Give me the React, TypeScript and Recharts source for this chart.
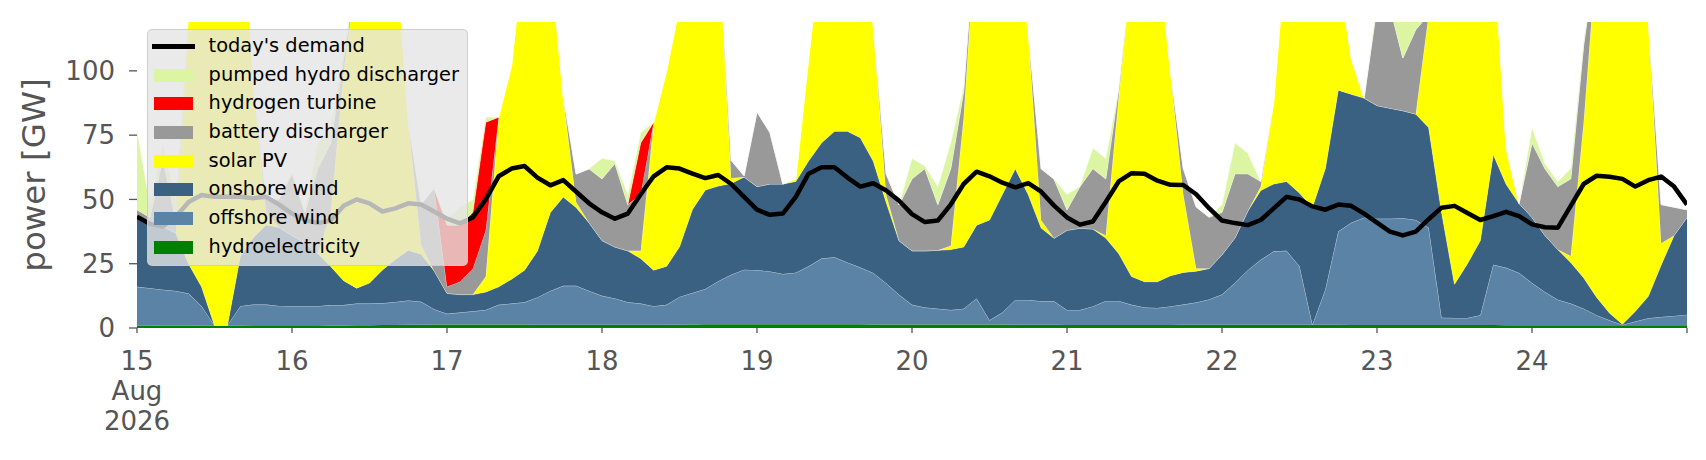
import React from 'react';
import { Area, ComposedChart, Label, Legend, Line, XAxis, YAxis } from 'recharts';

const FONT = '"DejaVu Sans", sans-serif';
const AXIS_GRAY = '#555555';

// hours after 15 Aug 2026 00:00, every 2 h
const HOURS = Array.from({ length: 121 }, (_, i) => i * 2);

const TICK_HOURS = [0, 24, 48, 72, 96, 120, 144, 168, 192, 216, 240];
const TICK_LABELS = [
  ['15', 'Aug', '2026'],
  ['16'],
  ['17'],
  ['18'],
  ['19'],
  ['20'],
  ['21'],
  ['22'],
  ['23'],
  ['24'],
  [''],
];
const Y_TICKS = [0, 25, 50, 75, 100];

// GW, one row of 12 values per day (15 .. 24 Aug) plus the closing point
const HYDRO = [
  1.0, 1.0, 0.9, 0.9, 0.9, 1.0, 1.0, 1.0, 1.0, 1.1, 1.1, 1.1,
  1.1, 1.1, 1.1, 1.0, 1.0, 1.1, 1.1, 1.2, 1.2, 1.3, 1.3, 1.4,
  1.4, 1.4, 1.4, 1.4, 1.4, 1.4, 1.4, 1.3, 1.3, 1.3, 1.3, 1.3,
  1.3, 1.3, 1.3, 1.3, 1.3, 1.3, 1.4, 1.4, 1.5, 1.5, 1.5, 1.5,
  1.5, 1.5, 1.5, 1.5, 1.5, 1.5, 1.5, 1.5, 1.5, 1.4, 1.4, 1.4,
  1.4, 1.4, 1.4, 1.4, 1.4, 1.4, 1.4, 1.4, 1.3, 1.3, 1.3, 1.3,
  1.2, 1.2, 1.2, 1.2, 1.2, 1.2, 1.2, 1.2, 1.2, 1.3, 1.3, 1.3,
  1.3, 1.3, 1.3, 1.3, 1.3, 1.3, 1.3, 1.3, 1.3, 1.3, 1.2, 1.2,
  1.2, 1.2, 1.2, 1.2, 1.2, 1.2, 1.2, 1.2, 1.2, 1.2, 1.1, 1.1,
  1.1, 1.1, 1.1, 1.1, 1.1, 1.1, 1.1, 1.1, 1.1, 1.1, 1.1, 1.1,
  1.1,
];

const OFFSHORE = [
  15, 14.5, 14, 13.5, 12.5, 7.5, 0, 0, 7.5, 8, 8, 7.5,
  7.4, 7.4, 7.4, 7.9, 7.9, 8.4, 8.4, 8.4, 8.9, 9.4, 8.9, 5.9,
  4.1, 4.6, 5.1, 5.6, 7.6, 8.1, 8.6, 10.6, 13.1, 15.1, 15.1, 13.1,
  11.2, 10.2, 8.7, 8.2, 7.2, 7.7, 10.7, 12.2, 13.7, 16.7, 19.2, 21.2,
  21, 20.5, 19.5, 20, 22.5, 25.5, 26, 24, 22, 20, 16, 11.5,
  7.6, 6.6, 6.1, 5.6, 6.1, 10.1, 1.6, 4.6, 9.6, 9.6, 9.1, 9.1,
  5.8, 5.8, 7.2, 9.3, 9.3, 7.8, 6.8, 6.6, 7.2, 7.8, 8.6, 9.8,
  11.7, 16.2, 21.2, 25.2, 28.5, 28.7, 22.7, 0, 13.7, 36.2, 39.7, 41.7,
  41.3, 41.3, 41.5, 40.8, 37.8, 2.8, 2.7, 2.7, 3.8, 23.4, 22.3, 20.3,
  16.4, 12.9, 9.9, 8.4, 6.4, 3.9, 1.9, 0.1, 1.4, 2.7, 3.2, 3.6,
  4.1,
];

const ONSHORE = [
  27, 25.5, 24.5, 22.5, 11.5, 7.5, 0, 0, 19.5, 26, 31, 30.5,
  27.5, 24.5, 20.5, 15, 9.5, 6, 8, 13, 16.5, 19.5, 18.5, 15,
  8, 7, 6.5, 7, 7, 9.5, 12.5, 18, 30.5, 34.5, 30.5, 26.5,
  21.5, 20, 20, 17.5, 14, 15, 19.5, 32.5, 38.5, 37, 35.5, 36,
  32.5, 34, 35, 35.5, 41, 45, 49, 51, 50.5, 43.5, 31.5, 21,
  21, 22, 22.7, 23.5, 24, 28.5, 39, 46, 51, 41, 28.5, 24.5,
  31, 31.8, 30.1, 24.5, 18.5, 11, 10, 10.2, 11.9, 12.5, 12.2, 12,
  15.5, 17.5, 23, 27, 26.2, 27, 28.5, 45.7, 47, 55, 50, 46.5,
  44, 43, 41.8, 41.2, 39, 41, 13.1, 21.1, 29, 42.9, 32.5, 27,
  25.5, 22, 19.5, 16, 12, 7, 2.8, 0.3, 4, 8.5, 20.2, 31.3,
  37.8,
];

const SOLAR = [
  0, 0, 0, 0, 99, 154, 179, 179, 152, 60, 5, 0,
  0, 0, 0, 21, 81.5, 122.5, 142.5, 137.5, 125.5, 50, 3.5, 0,
  0, 0, 0, 6, 66, 83, 127.5, 145, 99, 39, 2, 0,
  0, 0, 0, 3, 57.5, 76, 93.5, 114, 106.5, 98, 2, 0,
  0, 0, 0, 1, 40, 78, 93.5, 93.5, 76, 53, 3, 0,
  0, 0, 0, 1.5, 50.5, 120, 118, 108, 98, 63, 3, 0,
  0, 0, 0, 1, 61, 120, 152, 132, 79.7, 30.5, 1, 0,
  0, 0, 0, 1.5, 32, 93, 107.5, 113, 98, 47.5, 14, 0,
  0, 0, 0, 0, 44, 125, 153, 145, 136, 82.5, 14, 0,
  0, 0, 0, 2.5, 60.5, 134, 164.2, 168.5, 163.5, 107.7, 8.5, 0,
  0,
];

const BATTERY = [
  3, 2, 26.5, 5, 0, 0, 0, 0, 0, 0, 5, 11,
  24, 12, 33, 27, 5, 0, 0, 0, 0, 0, 16, 32,
  2.5, 5, 10, 18, 0, 0, 0, 0, 0, 0, 11, 21,
  24, 32.5, 18, 22, 0, 0, 0, 0, 0, 0, 7, 0.5,
  29, 20, 0, 0, 0, 0, 0, 0, 0, 0, 8, 14,
  28, 32, 17.8, 30, 10, 0, 0, 0, 0, 0, 20, 23,
  8, 16.2, 23.5, 22, 3, 0, 0, 0, 0, 10, 24, 20,
  16.5, 25, 14.5, 2, 0, 0, 0, 0, 0, 0, 0, 0,
  38.5, 39.5, 20.5, 32.8, 0, 0, 0, 0, 0, 0, 0, 0,
  29, 26, 24.5, 30, 30, 0, 0, 0, 0, 0, 15, 11,
  3,
];

const HYDROGEN = [
  0, 0, 0, 0, 0, 0, 0, 0, 0, 0, 0, 0,
  0, 0, 0, 0, 0, 0, 0, 0, 0, 0, 0, 0,
  24, 22, 22, 42, 0, 0, 0, 0, 0, 0, 0, 0,
  0, 0, 0, 20, 0, 0, 0, 0, 0, 0, 0, 0,
  0, 0, 0, 0, 0, 0, 0, 0, 0, 0, 0, 0,
  0, 0, 0, 0, 0, 0, 0, 0, 0, 0, 0, 0,
  0, 0, 0, 0, 0, 0, 0, 0, 0, 0, 0, 0,
  0, 0, 0, 0, 0, 0, 0, 0, 0, 0, 0, 0,
  0, 0, 0, 0, 0, 0, 0, 0, 0, 0, 0, 0,
  0, 0, 0, 0, 0, 0, 0, 0, 0, 0, 0, 0,
  0,
];

const PUMPED = [
  31, 5, 6, 8, 0, 0, 0, 0, 0, 0, 0, 0,
  1, 1, 10, 6, 3, 0, 0, 0, 0, 0, 0, 0,
  2, 7, 5, 2, 0, 0, 0, 0, 0, 0, 0, 0,
  8, 1, 4, 4, 0, 0, 0, 0, 0, 0, 0, 0,
  0, 0, 0, 0, 0, 0, 0, 0, 0, 0, 0, 0,
  8, 1, 7, 10, 2, 0, 0, 0, 0, 0, 0, 0,
  6, 0, 8, 8, 0, 0, 0, 0, 0, 0, 0, 0,
  3, 12, 8, 0, 0, 0, 0, 0, 0, 0, 0, 0,
  2, 1, 19, 5, 0, 0, 0, 0, 0, 0, 0, 0,
  6, 2, 2, 4, 2, 0, 0, 0, 0, 0, 0, 0,
  0,
];

const DEMAND = [
  43.3, 40.5, 39.5, 43.3, 49, 51.7, 51, 51, 51, 50.5, 51, 48,
  44.5, 42, 40.8, 41.8, 47.5, 50, 48.5, 45.3, 46.5, 48.5, 48, 45.3,
  42.5, 40.7, 43, 50, 59, 62, 63, 58.5, 55.5, 57.5, 53, 48.5,
  45, 42.5, 44.5, 52, 59, 62.5, 62, 60, 58.3, 59.5, 56, 51,
  46, 44, 44.5, 51, 60, 62.5, 62.5, 58.5, 55, 56.3, 53.5, 49.5,
  44.3, 41.2, 41.8, 48, 56, 60.8, 59, 56.5, 54.7, 56.3, 53, 47.6,
  43, 40.2, 41.4, 49, 57, 60.2, 60, 57.3, 55.7, 55.6, 52, 46.6,
  41.8, 40.8, 40, 42, 46.5, 51, 50, 47.3, 46, 48, 47.5, 44.5,
  41, 37.5, 36, 37.5, 42.3, 46.8, 47.5, 44.7, 42, 43.5, 45.2, 43.5,
  40.3, 39.2, 39, 47.5, 56, 59.2, 58.8, 58, 55, 57.5, 58.9, 55,
  48,
];

// stack order, bottom first
const STACK = [
  { key: 'hydro', name: 'hydroelectricity', color: '#008000', values: HYDRO },
  { key: 'offshore', name: 'offshore wind', color: '#5b83a6', values: OFFSHORE },
  { key: 'onshore', name: 'onshore wind', color: '#3b6182', values: ONSHORE },
  { key: 'solar', name: 'solar PV', color: '#ffff00', values: SOLAR },
  { key: 'battery', name: 'battery discharger', color: '#999999', values: BATTERY },
  { key: 'hydrogen', name: 'hydrogen turbine', color: '#ff0000', values: HYDROGEN },
  { key: 'pumped', name: 'pumped hydro discharger', color: '#dbf5a3', values: PUMPED },
];

const rows = HOURS.map((hour, i) => {
  const row: Record<string, number> = { hour, demand: DEMAND[i] };
  STACK.forEach((s) => {
    row[s.key] = s.values[i];
  });
  return row;
});

function DateTick(props: any) {
  const { x, y, index } = props;
  const lines = TICK_LABELS[index] ?? [''];
  return (
    <text x={x} y={y} textAnchor="middle" fill={AXIS_GRAY} fontSize={26} fontFamily={FONT}>
      {lines.map((line, i) => (
        <tspan key={i} x={x} dy={i === 0 ? '0.73em' : 30}>
          {line}
        </tspan>
      ))}
    </text>
  );
}

function YLabel(props: any) {
  const vb = props.viewBox ?? { x: 0, y: 14, height: 306 };
  const x = vb.x + 37;
  const y = vb.y + vb.height / 2;
  return (
    <text
      x={x}
      y={y}
      transform={`rotate(-90, ${x}, ${y})`}
      textAnchor="middle"
      fill={AXIS_GRAY}
      fontSize={32.5}
      fontFamily={FONT}
    >
      power [GW]
    </text>
  );
}

function LegendBox() {
  const items = [
    { name: "today's demand", color: '#000000', line: true },
    ...STACK.slice().reverse().map((s) => ({ name: s.name, color: s.color, line: false })),
  ];
  return (
    <div
      style={{
        width: 321,
        height: 237,
        boxSizing: 'border-box',
        background: 'rgba(229, 229, 229, 0.8)',
        border: '1px solid rgba(204, 204, 204, 0.9)',
        borderRadius: 5,
        paddingTop: 2,
        fontFamily: FONT,
        fontSize: 19.4,
        color: '#000000',
      }}
    >
      {items.map((item) => (
        <div key={item.name} style={{ height: 28.7, display: 'flex', alignItems: 'center' }}>
          <div style={{ width: 60.6, flexShrink: 0, display: 'flex', alignItems: 'center' }}>
            {item.line ? (
              <span style={{ marginLeft: 4, width: 43, height: 5, background: item.color }} />
            ) : (
              <span style={{ marginLeft: 6.3, width: 39, height: 13, background: item.color }} />
            )}
          </div>
          <span style={{ whiteSpace: 'nowrap', lineHeight: '28.7px' }}>{item.name}</span>
        </div>
      ))}
    </div>
  );
}

export default function App() {
  return (
    <div style={{ width: 1690, height: 444, fontFamily: FONT }}>
      <ComposedChart
        width={1690}
        height={444}
        data={rows}
        margin={{ top: 14, right: 11, bottom: 24, left: 0 }}
      >
        <XAxis
          dataKey="hour"
          type="number"
          domain={[0, 240]}
          ticks={TICK_HOURS}
          interval={0}
          allowDataOverflow
          axisLine={false}
          tickLine={{ stroke: AXIS_GRAY, strokeWidth: 1.3 }}
          tickSize={5}
          tickMargin={18}
          height={100}
          tick={<DateTick />}
        />
        <YAxis
          type="number"
          domain={[0, 119]}
          ticks={Y_TICKS}
          allowDataOverflow
          axisLine={false}
          tickLine={{ stroke: AXIS_GRAY, strokeWidth: 1.3 }}
          tickSize={8}
          tickMargin={14}
          width={129}
          tick={{ fill: AXIS_GRAY, fontSize: 26, fontFamily: FONT }}
        >
          <Label content={YLabel} />
        </YAxis>
        {STACK.map((s) => (
          <Area
            key={s.key}
            type="linear"
            dataKey={s.key}
            name={s.name}
            stackId="supply"
            fill={s.color}
            fillOpacity={1}
            stroke={s.key === 'hydro' ? 'none' : '#ffffff'}
            strokeWidth={0.6}
            strokeOpacity={0.8}
            dot={false}
            activeDot={false}
            isAnimationActive={false}
          />
        ))}
        <Line
          type="linear"
          dataKey="demand"
          name="today's demand"
          stroke="#000000"
          strokeWidth={4.5}
          strokeLinejoin="round"
          dot={false}
          activeDot={false}
          isAnimationActive={false}
        />
        <Legend
          layout="vertical"
          align="center"
          verticalAlign="middle"
          wrapperStyle={{ left: 139, top: 21, width: 321, height: 237 }}
          content={() => <LegendBox />}
        />
      </ComposedChart>
    </div>
  );
}
